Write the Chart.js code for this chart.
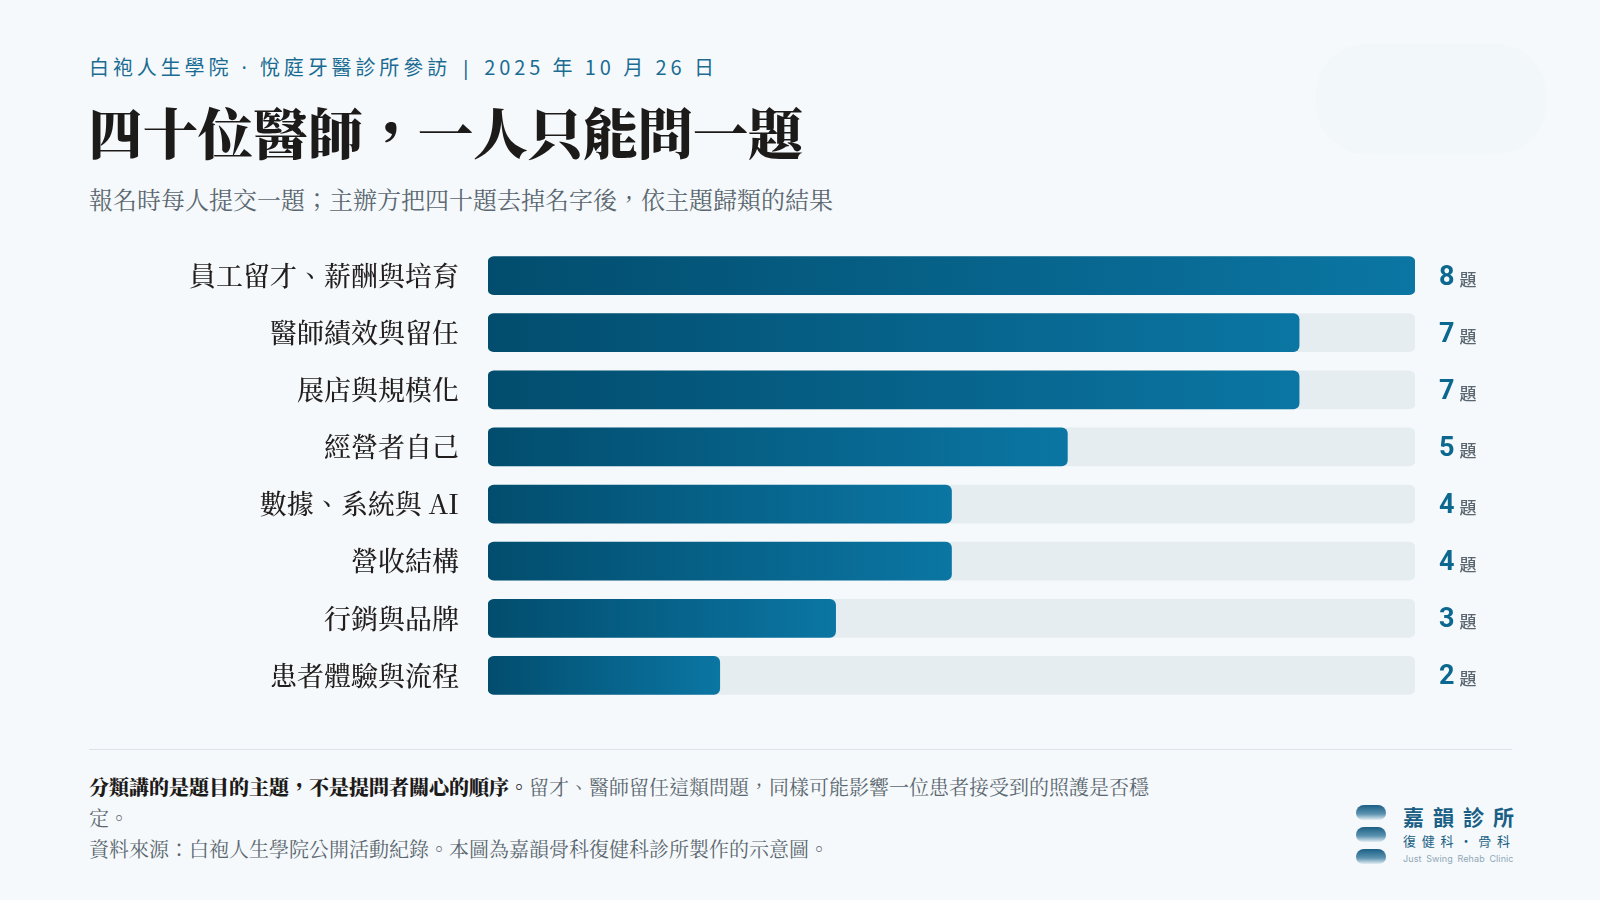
<!DOCTYPE html>
<html lang="zh-Hant">
<head>
<meta charset="utf-8">
<script src="https://cdn.jsdelivr.net/npm/chart.js@4.4.1/dist/chart.umd.min.js"></script>
<style>
  html,body{margin:0;padding:0;}
  body{width:1600px;height:900px;background:#f5f9fb;position:relative;overflow:hidden;
    font-family:"Noto Sans CJK TC","Noto Sans",sans-serif;}
  .serif{font-family:"Noto Serif CJK TC","Noto Serif TC","Noto Serif CJK JP",serif;}
  .lat{font-family:"Noto Sans",sans-serif;}
  #kicker{position:absolute;left:89px;top:52px;font-size:20px;letter-spacing:3.9px;color:#1b6c93;white-space:nowrap;}
  #title{position:absolute;left:88px;top:91px;font-size:55px;font-weight:900;color:#1d1a1a;white-space:nowrap;}
  #sub{position:absolute;left:89px;top:181px;font-size:24px;color:#5b6770;white-space:nowrap;}
  #blob{position:absolute;left:1316px;top:44px;width:230px;height:110px;border-radius:50px;background:#f1f6f9;opacity:.8;}
  #wrap{position:absolute;left:150px;top:247px;width:1370px;height:457px;}
  #rule{position:absolute;left:89px;top:749px;width:1423px;height:1px;background:#dbe4ea;}
  #note{position:absolute;left:89px;top:771px;width:1070px;font-size:20px;line-height:31px;color:#5b6770;}
  #note b{color:#1d1a1a;font-weight:900;}
  #logo{position:absolute;left:1355px;top:803px;width:170px;height:66px;}
  .wave{position:absolute;left:1px;width:30px;height:15px;border-radius:8px 8px 7px 7px/8px 8px 7px 7px;
    background:linear-gradient(#1a5f85,#5d93b0 60%,#e2edf3);}
  #logo .n1{position:absolute;left:48px;top:-2px;font-size:21px;font-weight:700;letter-spacing:9px;color:#1a5f85;white-space:nowrap;}
  #logo .n2{position:absolute;left:48px;top:28px;font-size:13px;letter-spacing:5.8px;color:#1a5f85;white-space:nowrap;}
  #logo .n3{position:absolute;left:48px;top:50px;font-size:9px;letter-spacing:.1px;word-spacing:2px;color:#8fa8b8;white-space:nowrap;font-family:Inter,sans-serif;}
</style>
</head>
<body>
<div id="blob"></div>
<div id="kicker">白袍人生學院<span class="lat"> · </span>悅庭牙醫診所參訪<span class="lat"> | </span>2025 年 10 月 26 日</div>
<div id="title" class="serif">四十位醫師，一人只能問一題</div>
<div id="sub" class="serif">報名時每人提交一題；主辦方把四十題去掉名字後，依主題歸類的結果</div>
<div id="wrap"><canvas id="c" width="1370" height="457"></canvas></div>
<div id="rule"></div>
<div id="note" class="serif"><b>分類講的是題目的主題，不是提問者關心的順序。</b>留才、醫師留任這類問題，同樣可能影響一位患者接受到的照護是否穩定。<br>資料來源：白袍人生學院公開活動紀錄。本圖為嘉韻骨科復健科診所製作的示意圖。</div>
<div id="logo">
  <div class="wave" style="top:2px"></div>
  <div class="wave" style="top:24px"></div>
  <div class="wave" style="top:46px"></div>
  <div class="n1">嘉韻診所</div>
  <div class="n2">復健科・骨科</div>
  <div class="n3">Just Swing Rehab Clinic</div>
</div>
<script>
// topic categories and question counts (40 in total)
const categories = ['員工留才、薪酬與培育','醫師績效與留任','展店與規模化','經營者自己','數據、系統與 AI','營收結構','行銷與品牌','患者體驗與流程'];
const counts = [8,7,7,5,4,4,3,2];
const maxCount = 8;
const unitLabel = '題';

function barGradient(ctx){
  const chart = ctx.chart;
  const xs = chart.scales.x;
  if(!xs || !chart.chartArea) return '#075f86';
  const v = ctx.raw;
  const x0 = xs.getPixelForValue(0), x1 = xs.getPixelForValue(v);
  const g = chart.ctx.createLinearGradient(x0,0,x1,0);
  g.addColorStop(0,'#024d6e');
  g.addColorStop(1,'#0b76a3');
  return g;
}

// value label "8 題" to the right of the track
const valueLabels = {
  id:'valueLabels',
  afterDatasetsDraw(chart){
    const {ctx, scales:{x,y}} = chart;
    const left = x.getPixelForValue(maxCount) + 24;
    ctx.save();
    counts.forEach((v,i)=>{
      const cy = y.getPixelForValue(i);
      ctx.textBaseline='alphabetic';
      ctx.textAlign='left';
      ctx.font = '700 27px Roboto, "Noto Sans", sans-serif';
      ctx.fillStyle = '#0d6890';
      ctx.fillText(String(v), left, cy + 9);
      const w = ctx.measureText(String(v)).width;
      ctx.font = '500 17px "Noto Sans CJK TC", sans-serif';
      ctx.fillStyle = '#5b6770';
      ctx.fillText(unitLabel, left + w + 5, cy + 10);
    });
    ctx.restore();
  }
};

new Chart(document.getElementById('c'),{
  type:'bar',
  data:{
    labels:categories,
    datasets:[
      {label:'value',data:counts,backgroundColor:barGradient,borderRadius:6,borderSkipped:false,
       barThickness:38,grouped:false,order:1},
      {label:'track',data:categories.map(()=>maxCount),backgroundColor:'#e6edf1',borderRadius:6,borderSkipped:false,
       barThickness:38,grouped:false,order:2}
    ]
  },
  options:{
    indexAxis:'y',
    responsive:false,
    animation:false,
    layout:{padding:{left:0,right:105,top:0,bottom:0}},
    plugins:{legend:{display:false},tooltip:{enabled:false}},
    scales:{
      x:{min:0,max:maxCount,display:false},
      y:{
        grid:{display:false,drawTicks:false},
        border:{display:false},
        afterFit(s){ s.width = 338; s.paddingTop = 0; s.paddingBottom = 0; },
        ticks:{padding:29,color:'#221e1e',
          font:{family:'"Noto Serif CJK TC","Noto Serif TC","Noto Serif CJK JP",serif',size:27,weight:'500'}}
      }
    }
  },
  plugins:[valueLabels]
});
</script>
</body>
</html>
